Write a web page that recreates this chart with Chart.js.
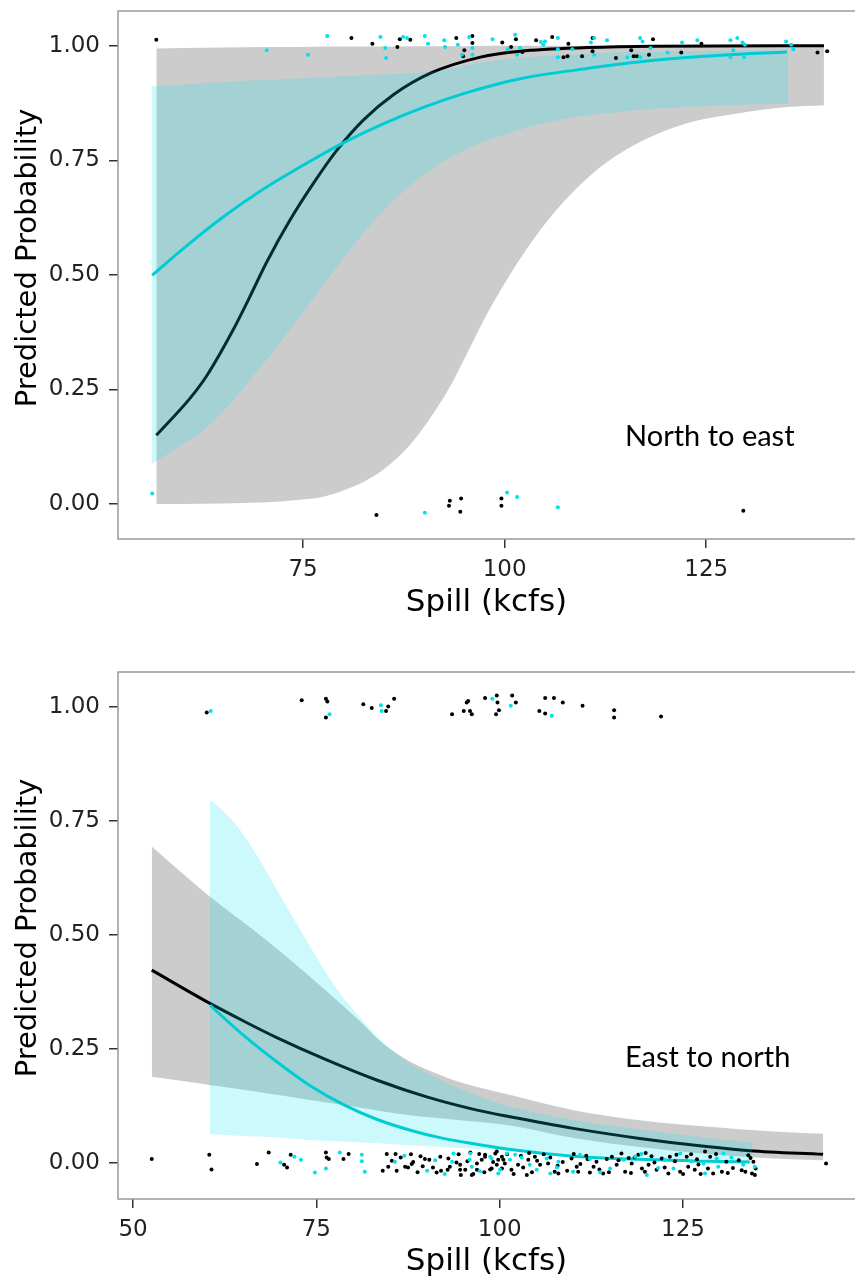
<!DOCTYPE html>
<html lang="en">
<head>
<meta charset="UTF-8">
<title>Predicted probability vs spill</title>
<script src="https://cdn.jsdelivr.net/npm/chart.js"></script>
<style>
  body { margin: 0; background: #fff; }
  .panel { position: absolute; left: 0; width: 855px; }
  #top { top: 0; height: 640px; }
  #bottom { top: 640px; height: 641px; }
</style>
</head>
<body>
<div class="panel" id="top"><canvas id="chartTop" width="855" height="640"></canvas></div>
<div class="panel" id="bottom"><canvas id="chartBottom" width="855" height="641"></canvas></div>
<script>
// ---------- shared ----------
const yTicks = [0, 0.25, 0.5, 0.75, 1];

// ---------- North to east (top panel) ----------
const neXTicks = [75, 100, 125];

const neBlackLineX = [56.8, 61.0, 63.1, 66.3, 68.2, 70.5, 73.4, 76.3, 79.2, 82.5, 86.2, 90.8, 97.0, 101.9, 110.2, 118.4, 139.6];
const neBlackLineY = [0.150, 0.231, 0.281, 0.379, 0.445, 0.528, 0.620, 0.700, 0.772, 0.838, 0.893, 0.940, 0.975, 0.988, 0.996, 0.999, 1.0];

const neCyanLineX = [56.3, 60, 65, 70, 75, 80, 85, 90, 95, 101.9, 110.2, 118.5, 126.75, 135.0];
const neCyanLineY = [0.499, 0.555, 0.625, 0.686, 0.739, 0.788, 0.830, 0.866, 0.896, 0.928, 0.950, 0.968, 0.979, 0.986];

const neGrayBandX  = [56.8, 60, 65, 70, 74.6, 77.5, 80.8, 82.9, 84.9, 88.3, 91.1, 93.2, 95.35, 97.8, 100.3, 102.8, 105.6, 109.0, 111.85, 114.3, 118, 122.6, 128.85, 135.05, 139.6];
const neGrayBandLo = [0.0, 0.0, 0.001, 0.003, 0.009, 0.016, 0.035, 0.052, 0.074, 0.130, 0.196, 0.255, 0.329, 0.414, 0.490, 0.558, 0.624, 0.690, 0.735, 0.765, 0.800, 0.831, 0.852, 0.866, 0.870];
const neGrayBandHi = [0.994, 0.995, 0.996, 0.997, 0.997, 0.998, 0.998, 0.998, 0.998, 0.999, 0.999, 0.999, 0.999, 1.0, 1.0, 1.0, 1.0, 1.0, 1.0, 1.0, 1.0, 1.0, 1.0, 1.0, 1.0];

const neCyanBandX  = [56.2, 58, 60, 62.2, 65, 68.4, 72.5, 75, 78.7, 82.9, 87, 91.1, 95.35, 101.55, 107.75, 115, 122.6, 129, 135.2];
const neCyanBandLo = [0.087, 0.107, 0.130, 0.155, 0.200, 0.270, 0.360, 0.418, 0.505, 0.600, 0.675, 0.732, 0.775, 0.815, 0.841, 0.857, 0.866, 0.871, 0.874];
const neCyanBandHi = [0.911, 0.913, 0.915, 0.918, 0.920, 0.924, 0.927, 0.929, 0.932, 0.936, 0.939, 0.943, 0.958, 0.973, 0.980, 0.986, 0.988, 0.989, 0.990];

const neBlackPts = [
  [56.8, 1.013], [81.0, 1.017], [83.6, 1.004], [86.7, 0.997], [87.0, 1.014], [88.3, 1.013], [94.0, 1.017],
  [96.0, 1.021], [96.0, 1.006], [95.0, 0.990], [94.85, 0.977], [99.7, 1.007], [101.4, 1.014], [100.8, 0.997],
  [102.2, 0.986], [103.9, 1.012], [105.9, 1.019], [107.9, 1.004], [107.8, 0.977], [107.3, 0.975], [109.6, 0.977],
  [110.9, 1.017], [110.9, 0.988], [113.8, 0.973], [115.7, 0.990], [116.0, 0.977], [116.4, 0.977], [118.4, 1.014],
  [117.9, 0.980], [121.9, 0.985], [124.4, 1.004], [138.8, 0.985], [140.0, 0.988],
  [84.1, -0.024], [93.2, 0.007], [94.6, 0.012], [93.1, -0.004], [94.5, -0.017], [99.6, 0.012], [99.6, -0.004], [129.6, -0.015]
];
const neCyanPts = [
  [78.0, 1.021], [84.6, 1.019], [85.2, 0.995], [85.3, 0.973], [87.4, 1.019], [87.9, 1.017], [90.1, 1.021], [90.5, 1.004],
  [70.5, 0.990], [75.6, 0.980], [92.5, 1.012], [92.6, 0.997], [94.2, 1.002], [95.6, 1.019], [96.0, 0.995], [94.7, 0.980],
  [96.0, 0.980], [98.5, 1.014], [101.3, 1.024], [100.4, 0.992], [101.9, 0.995], [101.55, 0.980], [104.5, 1.008],
  [105.0, 1.009], [104.8, 1.002], [106.6, 1.017], [106.6, 0.992], [106.6, 0.975], [108.4, 0.992], [111.1, 1.017],
  [110.7, 1.007], [111.1, 0.980], [112.7, 1.012], [115.2, 0.975], [116.8, 0.975], [116.8, 1.017], [117.1, 1.009],
  [118.1, 0.995], [120.2, 0.985], [122.0, 1.007], [123.9, 1.012], [128.0, 1.012], [128.85, 1.017], [129.5, 1.007],
  [129.8, 1.002], [128.0, 0.975], [128.35, 0.990], [129.7, 0.975], [134.9, 1.009], [135.55, 1.002], [135.8, 0.992],
  [56.3, 0.023], [90.1, -0.019], [100.3, 0.025], [101.55, 0.015], [106.6, -0.007]
];

// ---------- East to north (bottom panel) ----------
const enXTicks = [50, 75, 100, 125];

const enBlackLineX = [52.55, 60.5, 65.0, 69.6, 76.4, 83.2, 90.05, 96.9, 101.2, 110.05, 119.1, 128.2, 134.1, 144.1];
const enBlackLineY = [0.423, 0.350, 0.312, 0.275, 0.226, 0.182, 0.145, 0.116, 0.102, 0.076, 0.054, 0.036, 0.027, 0.019];

const enCyanLineX = [60.5, 65.0, 69.6, 74.1, 78.7, 83.2, 87.8, 92.3, 96.9, 101.2, 110.05, 119.1, 128.2, 134.1];
const enCyanLineY = [0.346, 0.281, 0.222, 0.170, 0.128, 0.096, 0.072, 0.054, 0.041, 0.030, 0.015, 0.008, 0.004, 0.002];

const enGrayBandX  = [52.55, 60.5, 67.3, 74.1, 81.0, 84.1, 87.8, 91.9, 94.6, 101.2, 110.05, 119.1, 128.2, 137.3, 144.1];
const enGrayBandLo = [0.189, 0.171, 0.155, 0.138, 0.121, 0.113, 0.105, 0.098, 0.094, 0.083, 0.055, 0.035, 0.020, 0.010, 0.006];
const enGrayBandHi = [0.694, 0.584, 0.500, 0.409, 0.310, 0.262, 0.222, 0.193, 0.177, 0.150, 0.116, 0.094, 0.080, 0.069, 0.064];

const enCyanBandX  = [60.5, 62, 64.3, 67.1, 69.8, 72.3, 74.5, 76.4, 78.7, 81.0, 83.2, 85.5, 87.8, 92.3, 96.9, 101.4, 110, 120, 128, 134.4];
const enCyanBandLo = [0.063, 0.062, 0.060, 0.058, 0.056, 0.053, 0.050, 0.049, 0.047, 0.045, 0.044, 0.041, 0.039, 0.035, 0.031, 0.028, 0.020, 0.012, 0.007, 0.004];
const enCyanBandHi = [0.796, 0.776, 0.737, 0.669, 0.594, 0.525, 0.465, 0.415, 0.362, 0.318, 0.278, 0.245, 0.217, 0.180, 0.148, 0.124, 0.095, 0.072, 0.056, 0.045];

const enBlackPts = [
  [60.05, 0.988], [73.0, 1.015], [76.3, 1.018], [76.5, 1.012], [76.3, 0.977], [81.4, 1.006], [82.55, 0.998],
  [84.5, 0.991], [84.8, 1.001], [85.6, 1.018], [93.5, 0.984], [95.1, 0.991], [95.5, 1.010], [95.7, 1.013],
  [95.95, 0.991], [96.2, 0.984], [98.0, 1.020], [99.6, 1.025], [99.7, 1.010], [99.9, 0.993], [99.5, 0.984],
  [101.7, 1.025], [102.2, 1.010], [105.4, 0.991], [106.2, 1.020], [106.2, 0.986], [107.4, 1.020], [108.6, 1.010],
  [111.3, 1.003], [115.6, 0.993], [115.6, 0.977], [122.0, 0.979],
  [52.55, 0.009], [60.4, 0.018], [60.7, -0.014], [66.9, -0.002], [68.5, 0.023], [70.6, -0.004], [71.0, -0.010],
  [71.5, 0.018], [76.3, 0.023], [76.4, 0.012], [76.7, 0.009], [78.7, 0.009], [79.4, 0.020], [84.05, -0.017],
  [84.6, 0.020], [84.8, -0.008], [85.8, 0.020], [85.95, -0.017], [87.1, -0.008], [87.5, -0.010], [88.0, -0.002],
  [88.2, 0.002], [89.2, 0.015], [89.8, 0.009], [90.4, 0.007], [89.5, -0.007], [91.4, -0.021], [91.9, 0.014],
  [92.0, -0.017], [92.9, -0.015], [94.4, 0.019], [94.1, 0.001], [94.6, -0.015], [94.7, -0.026], [96.0, 0.023],
  [96.4, -0.024], [96.9, -0.015], [98.0, 0.014], [99.4, 0.021], [99.6, -0.004], [100.3, -0.012], [100.5, 0.007],
  [98.7, -0.014], [93.2, -0.008], [94.6, -0.004], [95.3, -0.015], [96.2, -0.026], [96.9, -0.001], [97.55, 0.007],
  [98.0, 0.018], [98.9, -0.012], [99.6, 0.025], [99.8, 0.007], [100.3, 0.014], [100.7, -0.001], [101.6, -0.015],
  [102.5, -0.004], [103.7, -0.026], [103.9, 0.007], [104.8, 0.014], [105.5, -0.004], [106.6, -0.001], [107.5, -0.019],
  [108.0, -0.023], [109.8, 0.010], [110.5, -0.008], [110.7, -0.019], [112.8, -0.008], [113.2, 0.003], [114.1, -0.023],
  [115.3, 0.014], [115.95, -0.004], [116.6, 0.021], [117.1, -0.019], [118.0, -0.001], [118.9, 0.018], [119.4, -0.012],
  [120.3, -0.004], [121.4, -0.015], [122.1, 0.010], [123.0, -0.023], [123.2, 0.014], [124.1, 0.018], [124.6, -0.019],
  [125.5, 0.014], [125.7, -0.008], [126.6, -0.015], [128.0, 0.025], [128.7, 0.014], [129.1, -0.023], [130.3, -0.019],
  [133.5, -0.019], [134.4, -0.023], [134.8, -0.026], [134.6, 0.003], [144.5, -0.001],
  [86.5, 0.012], [88.8, -0.020], [97.2, 0.020], [102.9, 0.016], [104.4, -0.020], [106.0, 0.019], [108.6, 0.002],
  [111.8, 0.016], [112.3, -0.021], [114.6, 0.009], [117.6, 0.011], [119.9, 0.022], [121.1, 0.001], [126.9, 0.008],
  [127.4, -0.024], [130.9, 0.003], [131.8, -0.011], [133.9, 0.017],
  [85.3, 0.005], [87.9, 0.019], [90.9, -0.010], [93.0, 0.010], [95.6, 0.004], [97.9, -0.020], [99.1, 0.002],
  [101.0, 0.019], [101.9, -0.024], [103.2, -0.010], [104.0, 0.022], [105.1, 0.005], [106.9, 0.012], [107.9, -0.006],
  [109.2, -0.017], [110.1, 0.020], [111.0, -0.002], [112.0, 0.008], [113.6, -0.014], [114.9, -0.020], [116.2, 0.006],
  [117.9, -0.022], [118.4, 0.012], [119.8, -0.019], [120.7, 0.015], [122.5, -0.010], [123.9, 0.004], [125.0, -0.024],
  [126.1, 0.019], [127.1, -0.003], [128.4, -0.012], [129.5, 0.020], [131.1, -0.022], [132.6, 0.006], [133.0, -0.016],
  [134.2, 0.011], [134.9, -0.012]
];
const enCyanPts = [
  [60.6, 0.991], [76.8, 0.984], [83.8, 1.004], [83.9, 0.991], [99.0, 1.018], [101.5, 1.003], [107.1, 0.981],
  [70.1, 0.001], [72.0, 0.014], [72.9, 0.007], [74.8, -0.021], [76.3, -0.012], [78.2, 0.023], [81.2, 0.018],
  [81.2, 0.004], [81.6, -0.019], [85.7, 0.003], [90.1, -0.017], [92.5, -0.024], [93.7, 0.021], [93.5, 0.003],
  [95.9, 0.007], [96.2, -0.008], [98.9, 0.010], [99.8, -0.023], [96.0, 0.021], [98.7, 0.014], [100.05, -0.015],
  [100.95, 0.021], [101.4, 0.007], [102.1, 0.018], [104.1, -0.004], [105.05, -0.015], [106.4, 0.010], [106.9, -0.023],
  [108.0, 0.003], [110.0, -0.019], [110.95, 0.018], [115.05, -0.012], [116.9, 0.007], [118.5, 0.014], [120.05, -0.026],
  [122.55, 0.007], [123.7, -0.012], [124.6, 0.021], [127.8, -0.001], [128.0, -0.023], [129.6, 0.010], [129.8, -0.008],
  [130.5, 0.021], [134.8, -0.008],
  [87.0, 0.016], [91.2, 0.006], [97.3, -0.018], [103.0, 0.012], [107.8, -0.010], [112.3, 0.009], [113.7, -0.020],
  [119.3, 0.020], [121.6, -0.011], [126.1, 0.004], [131.6, 0.012], [133.2, -0.004]
];

// ---------- helpers ----------
const GRAY_FILL = 'rgba(0,0,0,0.2)';
const CYAN_FILL = 'rgba(0,225,235,0.2)';
const CYAN_LINE = '#00CDD3';
const CYAN_PT = '#00E2EC';

function xy(xs, ys) { return xs.map((x, i) => ({ x: x, y: ys[i] })); }
function pairs(list) { return list.map(p => ({ x: p[0], y: p[1] })); }

function band(xs, lo, hi, color, order) {
  const common = { showLine: true, pointRadius: 0, borderWidth: 0, borderColor: 'rgba(0,0,0,0)',
                   cubicInterpolationMode: 'monotone', order: order };
  return [
    Object.assign({ data: xy(xs, lo), fill: false }, common),
    Object.assign({ data: xy(xs, hi), fill: '-1', backgroundColor: color }, common)
  ];
}
function line(xs, ys, color, order) {
  return { data: xy(xs, ys), showLine: true, pointRadius: 0, borderWidth: 3, borderColor: color,
           cubicInterpolationMode: 'monotone', fill: false, order: order };
}
function dots(list, color, order) {
  return { data: pairs(list), pointRadius: 2, pointBorderWidth: 0, backgroundColor: color,
           borderColor: color, showLine: false, order: order };
}

// axis titles, panel frame and the in-panel label
const decor = {
  id: 'decor',
  afterDraw(chart, args, o) {
    const ctx = chart.ctx, a = chart.chartArea;
    ctx.save();
    ctx.strokeStyle = '#9b9b9b';
    ctx.lineWidth = 1.5;
    ctx.beginPath();
    ctx.moveTo(a.right, a.top); ctx.lineTo(a.left, a.top);
    ctx.lineTo(a.left, a.bottom); ctx.lineTo(a.right, a.bottom);
    ctx.stroke();

    ctx.fillStyle = '#000';
    ctx.font = '31px "DejaVu Sans"';
    ctx.textAlign = 'center';
    ctx.textBaseline = 'middle';
    ctx.fillText('Spill (kcfs)', (a.left + a.right) / 2, o.xTitleY);

    ctx.translate(o.yTitleX, o.yTitleY);
    ctx.rotate(-Math.PI / 2);
    ctx.font = '29px "DejaVu Sans"';
    ctx.fillText('Predicted Probability', 0, 0);
    ctx.restore();

    ctx.save();
    ctx.fillStyle = '#000';
    ctx.font = '29px Lato';
    ctx.textAlign = 'left';
    ctx.textBaseline = 'middle';
    ctx.fillText(o.label, o.labelX, o.labelY);
    ctx.restore();
  }
};

function makeChart(id, s) {
  const tickFont = { family: 'DejaVu Sans', size: 23 };
  return new Chart(document.getElementById(id), {
    type: 'scatter',
    data: {
      datasets: [].concat(
        band(s.grayX, s.grayLo, s.grayHi, GRAY_FILL, 10),
        [line(s.blackX, s.blackY, '#000', 9)],
        band(s.cyanX, s.cyanLo, s.cyanHi, CYAN_FILL, 8),
        [line(s.cyanLineX, s.cyanLineY, CYAN_LINE, 7)],
        [dots(s.blackPts, '#000', 6), dots(s.cyanPts, CYAN_PT, 5)]
      )
    },
    plugins: [decor],
    options: {
      responsive: false,
      animation: false,
      layout: { autoPadding: false, padding: { top: s.areaTop, right: 0, left: 0, bottom: 0 } },
      plugins: {
        legend: { display: false },
        tooltip: { enabled: false },
        decor: { xTitleY: s.xTitleY, yTitleX: 28, yTitleY: s.yTitleY, label: s.label, labelX: 625, labelY: s.labelY }
      },
      scales: {
        x: {
          type: 'linear', min: s.xMin, max: s.xMax,
          afterBuildTicks: sc => { sc.ticks = s.xTicks.map(v => ({ value: v })); },
          afterFit: sc => { sc.height = s.xAxisH; sc.paddingLeft = 0; sc.paddingRight = 0; },
          grid: { drawOnChartArea: false, drawTicks: true, tickLength: 9, color: '#333', lineWidth: 1.5 },
          border: { display: false },
          ticks: { font: tickFont, color: '#222', padding: 8, autoSkip: false, maxRotation: 0,
                   callback: v => String(v) }
        },
        y: {
          type: 'linear', min: s.yMin, max: s.yMax,
          afterBuildTicks: sc => { sc.ticks = yTicks.map(v => ({ value: v })); },
          afterFit: sc => { sc.width = 118; sc.paddingTop = 0; sc.paddingBottom = 0; },
          grid: { drawOnChartArea: false, drawTicks: true, tickLength: 9, color: '#333', lineWidth: 1.5 },
          border: { display: false },
          ticks: { font: tickFont, color: '#222', padding: 9, callback: v => v.toFixed(2) }
        }
      }
    }
  });
}

makeChart('chartTop', {
  grayX: neGrayBandX, grayLo: neGrayBandLo, grayHi: neGrayBandHi,
  cyanX: neCyanBandX, cyanLo: neCyanBandLo, cyanHi: neCyanBandHi,
  blackX: neBlackLineX, blackY: neBlackLineY, cyanLineX: neCyanLineX, cyanLineY: neCyanLineY,
  blackPts: neBlackPts, cyanPts: neCyanPts,
  xMin: 52.05, xMax: 143.45, yMin: -0.0764, yMax: 1.0757, xTicks: neXTicks,
  areaTop: 11, xAxisH: 101, xTitleY: 603, yTitleY: 258,
  label: 'North to east', labelY: 437
});

makeChart('chartBottom', {
  grayX: enGrayBandX, grayLo: enGrayBandLo, grayHi: enGrayBandHi,
  cyanX: enCyanBandX, cyanLo: enCyanBandLo, cyanHi: enCyanBandHi,
  blackX: enBlackLineX, blackY: enBlackLineY, cyanLineX: enCyanLineX, cyanLineY: enCyanLineY,
  blackPts: enBlackPts, cyanPts: enCyanPts,
  xMin: 47.95, xMax: 148.45, yMin: -0.0789, yMax: 1.0768, xTicks: enXTicks,
  areaTop: 32, xAxisH: 82, xTitleY: 622, yTitleY: 288,
  label: 'East to north', labelY: 418
});
</script>
</body>
</html>
